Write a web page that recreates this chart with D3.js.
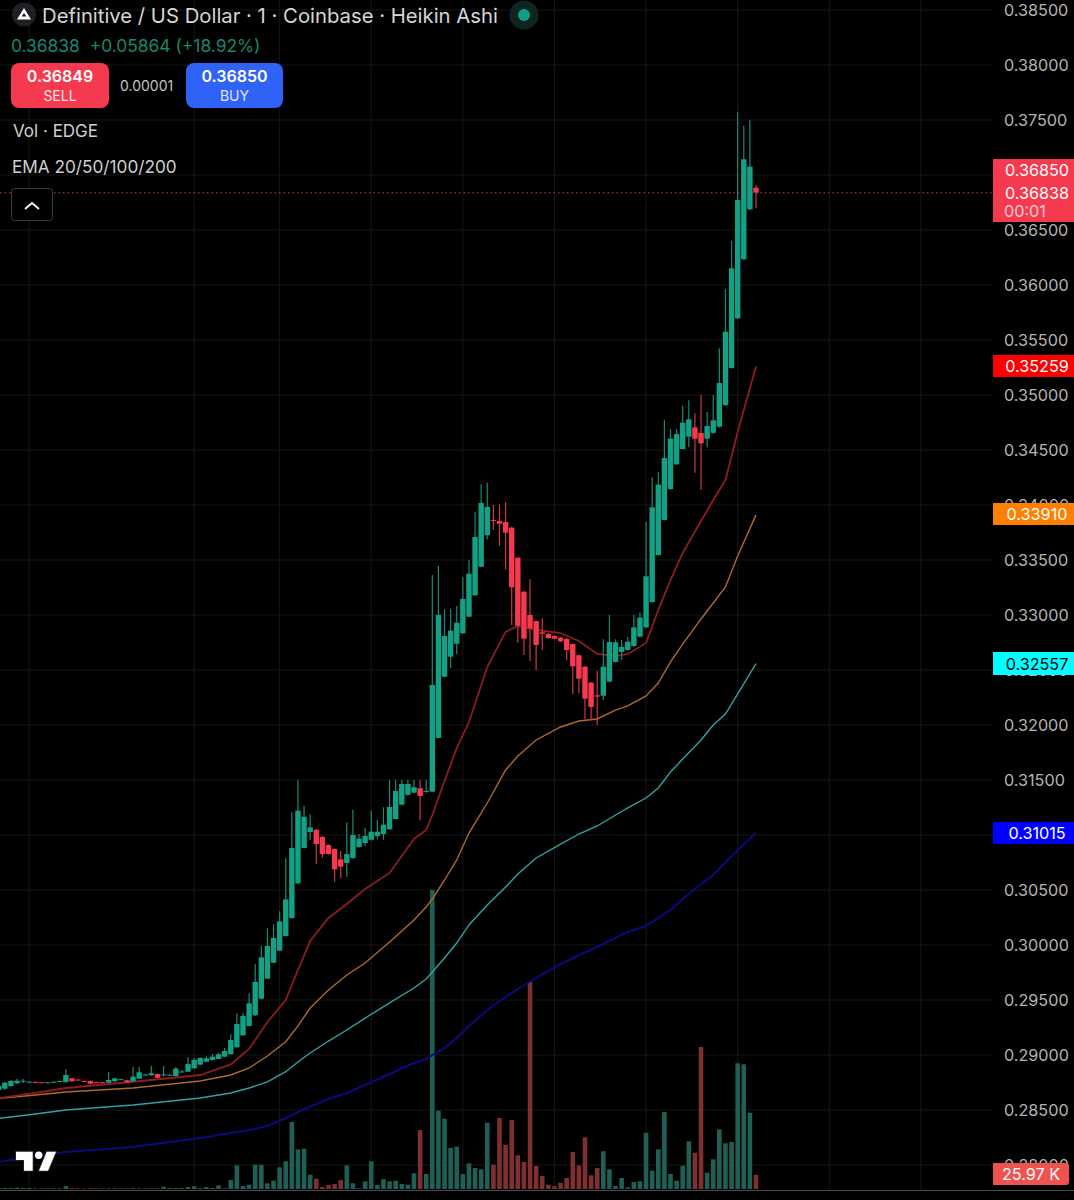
<!DOCTYPE html>
<html>
<head>
<meta charset="utf-8">
<title>Definitive / US Dollar</title>
<script src="https://d3js.org/d3.v7.min.js"></script>
<style>
  html, body { margin: 0; padding: 0; background: #000; overflow: hidden; }
  svg { display: block; }
  text { font-family: Inter, "Noto Sans", sans-serif; }
</style>
</head>
<body>
<div id="chart"></div>
<script>
// --- data ---
const opens = [
  0.28682,0.28694,0.28718,0.28743,0.28762,0.28755,0.28755,0.28752,0.28750,0.28752,
  0.28757,0.28755,0.28788,0.28777,0.28764,0.28764,0.28755,0.28752,0.28748,0.28761,
  0.28777,0.28770,0.28761,0.28785,0.28818,0.28816,0.28827,0.28820,0.28816,0.28809,
  0.28846,0.28848,0.28879,0.28912,0.28939,0.28955,0.28964,0.28985,0.29009,0.29070,
  0.29179,0.29264,0.29361,0.29512,0.29694,0.29839,0.29948,0.30082,0.30245,0.30561,
  0.30882,0.31027,0.31048,0.30982,0.30909,0.30873,0.30779,0.30745,0.30791,0.30891,
  0.30927,0.30957,0.30991,0.31009,0.31052,0.31145,0.31276,0.31366,0.31385,0.31425,
  0.31395,0.31394,0.31882,0.32439,0.32621,0.32739,0.32834,0.32985,0.33179,0.33439,
  0.33725,0.33864,0.33855,0.33845,0.33794,0.33521,0.33212,0.33000,0.32945,0.32843,
  0.32827,0.32809,0.32794,0.32782,0.32736,0.32634,0.32530,0.32385,0.32270,0.32266,
  0.32394,0.32573,0.32664,0.32682,0.32718,0.32803,0.32888,0.33118,0.33545,0.33864,
  0.34145,0.34370,0.34509,0.34621,0.34706,0.34655,0.34603,0.34657,0.34712,0.34909,
  0.35245,0.35697,0.36234,0.36688,0.36885
];
const closes = [
  0.28718,0.28748,0.28764,0.28766,0.28766,0.28757,0.28750,0.28750,0.28752,0.28757,
  0.28764,0.28818,0.28761,0.28768,0.28755,0.28739,0.28750,0.28746,0.28773,0.28788,
  0.28780,0.28752,0.28803,0.28843,0.28823,0.28834,0.28793,0.28823,0.28820,0.28876,
  0.28850,0.28918,0.28955,0.28973,0.28970,0.28985,0.29007,0.29036,0.29136,0.29282,
  0.29355,0.29470,0.29664,0.29888,0.29991,0.30064,0.30215,0.30415,0.30882,0.31221,
  0.31166,0.31070,0.30918,0.30827,0.30827,0.30688,0.30712,0.30827,0.31000,0.30966,
  0.30991,0.31030,0.31030,0.31094,0.31255,0.31400,0.31464,0.31464,0.31434,0.31355,
  0.31400,0.32364,0.33000,0.32809,0.32858,0.32930,0.33146,0.33376,0.33709,0.34018,
  0.33982,0.33855,0.33830,0.33748,0.33252,0.32903,0.32785,0.32879,0.32727,0.32830,
  0.32791,0.32785,0.32761,0.32682,0.32534,0.32421,0.32239,0.32164,0.32258,0.32530,
  0.32755,0.32752,0.32709,0.32757,0.32888,0.32976,0.33352,0.33979,0.34185,0.34427,
  0.34603,0.34645,0.34748,0.34779,0.34603,0.34561,0.34718,0.34770,0.35109,0.35575,
  0.36152,0.36773,0.37143,0.37076,0.36839
];
const highs = [
  0.28727,0.28755,0.28773,0.28782,0.28782,0.28762,0.28759,0.28755,0.28755,0.28759,
  0.28766,0.28870,0.28795,0.28780,0.28768,0.28768,0.28757,0.28755,0.28846,0.28793,
  0.28784,0.28775,0.28894,0.28894,0.28827,0.28900,0.28832,0.28900,0.28825,0.28891,
  0.28864,0.28979,0.28973,0.28980,0.28991,0.29009,0.29020,0.29064,0.29188,0.29379,
  0.29385,0.29561,0.29827,0.29994,0.30152,0.30188,0.30306,0.30788,0.31209,0.31500,
  0.31266,0.31188,0.31055,0.30990,0.30915,0.30880,0.30855,0.31116,0.31230,0.31009,
  0.31061,0.31221,0.31136,0.31252,0.31500,0.31500,0.31500,0.31500,0.31500,0.31500,
  0.31500,0.33364,0.33446,0.33052,0.33052,0.33082,0.33343,0.33500,0.33939,0.34188,
  0.34203,0.34000,0.34006,0.34025,0.33800,0.33525,0.33220,0.33325,0.32950,0.32970,
  0.32835,0.32815,0.32800,0.32790,0.32742,0.32640,0.32535,0.32390,0.32491,0.32779,
  0.33000,0.32779,0.32773,0.32800,0.33000,0.33025,0.33848,0.34252,0.34297,0.34773,
  0.34688,0.34688,0.34903,0.34952,0.34834,0.35000,0.34846,0.35000,0.35425,0.35964,
  0.36403,0.37576,0.37448,0.37500,0.36909
];
const lows = [
  0.28673,0.28682,0.28709,0.28736,0.28745,0.28750,0.28748,0.28748,0.28748,0.28750,
  0.28755,0.28748,0.28757,0.28766,0.28752,0.28735,0.28748,0.28743,0.28745,0.28757,
  0.28775,0.28748,0.28757,0.28780,0.28814,0.28811,0.28789,0.28803,0.28812,0.28805,
  0.28843,0.28845,0.28875,0.28908,0.28935,0.28950,0.28960,0.28980,0.29005,0.29065,
  0.29175,0.29260,0.29355,0.29505,0.29690,0.29835,0.29944,0.30078,0.30240,0.30555,
  0.30878,0.30955,0.30734,0.30794,0.30820,0.30576,0.30606,0.30621,0.30785,0.30885,
  0.30900,0.30950,0.30961,0.30957,0.31045,0.31140,0.31270,0.31360,0.31380,0.31136,
  0.31385,0.31390,0.31880,0.32435,0.32521,0.32646,0.32830,0.32980,0.33175,0.33435,
  0.33688,0.33773,0.33627,0.33416,0.32909,0.32748,0.32636,0.32582,0.32500,0.32682,
  0.32785,0.32780,0.32755,0.32591,0.32282,0.32288,0.32052,0.32045,0.32000,0.32227,
  0.32390,0.32568,0.32591,0.32675,0.32710,0.32798,0.32880,0.33112,0.33540,0.33860,
  0.34140,0.34365,0.34505,0.34525,0.34294,0.34136,0.34525,0.34645,0.34705,0.34900,
  0.35240,0.35690,0.36230,0.36680,0.36697
];
// volume in thousands
const volumes = [
  1.8,1.8,1.8,2.4,1.8,1.8,1.3,1.3,1.3,1.3,
  1.3,5.4,1.3,1.2,1.1,1.4,1.2,1.1,1.3,1.2,
  1.1,1.2,1.4,1.2,1.1,1.3,1.2,4.2,1.8,1.8,
  1.8,3.6,4.9,1.8,3.6,1.8,6.7,1.3,16.3,43,
  5.4,7.8,44.1,44.1,10.4,15.1,39.4,50.3,121.7,72.1,
  73.2,26,18.7,3.6,7.3,9.1,16.3,43,10.4,1.3,
  14,50.3,7.3,17.6,14,15.1,9.1,7.8,28.5,107.1,
  27.2,543,142.2,127.7,74.5,76.8,27.2,46.7,38.1,35.8,
  120.4,44.1,128.9,80.4,125.3,61.2,49,375.9,41.8,23.6,
  7.8,5.4,11.4,20,67.2,43,93.9,24.9,38.1,68.5,
  35.8,5.4,20,3.1,12.7,14,102.2,33.2,72.1,139.8,
  27.2,15.1,42.3,86.6,65.9,257.9,29.6,53.9,108.4,83,
  85.4,228.3,226.5,138.6,25.97
];

// EMA lines, read at these bars only
const emaBars = [0,6,11,22,33,38,41,44,47,49,51,54,57,60,64,68,70,71,73,75,77,80,83,85,88,92,95,98,101,103,106,108,110,112,115,117,119,121,124];
const ema20 = [0.28609,0.28655,0.28700,0.28757,0.28818,0.28914,0.29055,0.29300,0.29500,0.29773,0.30036,0.30246,0.30373,0.30509,0.30655,0.30964,0.31046,0.31182,0.31491,0.31791,0.32027,0.32527,0.32846,0.32900,0.32864,0.32836,0.32764,0.32646,0.32627,0.32646,0.32746,0.33046,0.33318,0.33564,0.33855,0.34046,0.34227,0.34664,0.35259];
const ema50 = [0.28605,0.28636,0.28664,0.28700,0.28764,0.28818,0.28882,0.28991,0.29121,0.29264,0.29427,0.29591,0.29727,0.29836,0.30027,0.30227,0.30346,0.30418,0.30591,0.30773,0.31018,0.31291,0.31591,0.31718,0.31864,0.31982,0.32036,0.32055,0.32136,0.32173,0.32264,0.32382,0.32573,0.32736,0.32964,0.33109,0.33255,0.33536,0.33910];
const ema100 = [0.28423,0.28464,0.28500,0.28546,0.28609,0.28655,0.28700,0.28755,0.28848,0.28936,0.29018,0.29127,0.29227,0.29336,0.29473,0.29609,0.29691,0.29755,0.29882,0.30018,0.30182,0.30364,0.30527,0.30646,0.30791,0.30918,0.31009,0.31082,0.31182,0.31246,0.31336,0.31427,0.31573,0.31691,0.31864,0.32000,0.32100,0.32282,0.32557];
const ema200 = [0.28027,0.28082,0.28118,0.28164,0.28246,0.28291,0.28318,0.28355,0.28427,0.28482,0.28530,0.28600,0.28655,0.28727,0.28827,0.28927,0.28964,0.29000,0.29064,0.29155,0.29264,0.29409,0.29527,0.29600,0.29700,0.29827,0.29909,0.29982,0.30064,0.30118,0.30173,0.30246,0.30318,0.30418,0.30555,0.30636,0.30755,0.30864,0.31015];

const priceTicks = [0.385,0.38,0.375,0.37,0.365,0.36,0.355,0.35,0.345,0.34,0.335,0.33,0.325,0.32,0.315,0.31,0.305,0.30,0.295,0.29,0.285,0.28];
// 0.37 and 0.31 sit fully under the price boxes, so no label shows for them
const hiddenTicks = [0.37, 0.31];
const gridBars = [5,32,46,61,76,91,106,121,136,151];
const lastPrice = 0.36838;
const emaLabels = ["0.35259","0.33910","0.32557","0.31015"];

// --- layout ---
const width = 1074, height = 1200, axisLeft = 993;
const GREEN = "#14a085", RED = "#f5394e";
const AXIS_FONT = 16.2;

const svg = d3.select("#chart").append("svg")
  .attr("width", width)
  .attr("height", height);
svg.append("rect").attr("width", width).attr("height", height).attr("fill", "#000");

// scales
const x = d3.scaleLinear().domain([0, 124]).range([-1.3, 756]);
const y = d3.scaleLinear().domain([0.385, 0.28]).range([10, 1165]);
const v = d3.scaleLinear().domain([0, 543]).range([1189, 890]);

// --- grid ---
svg.append("g").selectAll("line").data(priceTicks).enter().append("line")
  .attr("x1", 0).attr("x2", axisLeft)
  .attr("y1", d => y(d)).attr("y2", d => y(d))
  .attr("stroke", "#171717");
svg.append("g").selectAll("line").data(gridBars).enter().append("line")
  .attr("x1", d => x(d)).attr("x2", d => x(d))
  .attr("y1", 0).attr("y2", 1190)
  .attr("stroke", "#171717");

// bottom edge of the pane
svg.append("line")
  .attr("x1", 0).attr("x2", width)
  .attr("y1", 1190.5).attr("y2", 1190.5)
  .attr("stroke", "#4a4a4a");

// --- volume ---
svg.append("g").selectAll("rect").data(volumes).enter().append("rect")
  .attr("x", (d, i) => x(i) - 2.3)
  .attr("width", 4.6)
  .attr("y", d => v(d))
  .attr("height", d => v(0) - v(d))
  .attr("fill", (d, i) => closes[i] >= opens[i] ? "#1f5f56" : "#7e2f30");

// --- EMA lines ---
const emaLine = d3.line()
  .x((d, i) => x(emaBars[i]))
  .y(d => y(d));
const emas = [
  { values: ema200, color: "#0a0a80", w: 2 },
  { values: ema100, color: "#2fa3a3", w: 1.4 },
  { values: ema50, color: "#ad6a2a", w: 1.4 },
  { values: ema20, color: "#8f1c1f", w: 1.8 }
];
emas.forEach(e => {
  svg.append("path")
    .attr("d", emaLine(e.values))
    .attr("fill", "none")
    .attr("stroke", e.color)
    .attr("stroke-width", e.w);
});

// --- last price line ---
svg.append("line")
  .attr("x1", 0).attr("x2", axisLeft)
  .attr("y1", y(lastPrice)).attr("y2", y(lastPrice))
  .attr("stroke", "#c9404c")
  .attr("stroke-dasharray", "1.5,3");

// --- candles ---
const candles = svg.append("g").selectAll("g").data(opens).enter().append("g");
candles.append("line")
  .attr("x1", (d, i) => x(i)).attr("x2", (d, i) => x(i))
  .attr("y1", (d, i) => y(highs[i]))
  .attr("y2", (d, i) => y(lows[i]))
  .attr("stroke", (d, i) => closes[i] >= opens[i] ? "#1a8a76" : "#c93a49")
  .attr("stroke-width", 1.2);
candles.append("rect")
  .attr("x", (d, i) => x(i) - 2.7)
  .attr("width", 5.4)
  .attr("y", (d, i) => y(Math.max(opens[i], closes[i])))
  .attr("height", (d, i) => Math.max(1, Math.abs(y(opens[i]) - y(closes[i]))))
  .attr("fill", (d, i) => closes[i] >= opens[i] ? GREEN : RED);

// --- price axis ---
const axis = d3.axisRight(y)
  .tickValues(priceTicks.filter(d => !hiddenTicks.includes(d)))
  .tickFormat(d3.format(".5f"))
  .tickSize(0)
  .tickPadding(0);
const axisG = svg.append("g")
  .attr("transform", "translate(1004,0.8)")
  .call(axis);
axisG.select(".domain").remove();
axisG.selectAll("text")
  .style("font-family", "Inter")
  .style("font-size", AXIS_FONT + "px")
  .attr("fill", "#b4b4b4");

// --- labels on the axis ---
function priceBox(py, h, color) {
  svg.append("rect")
    .attr("x", axisLeft).attr("y", py)
    .attr("width", width - axisLeft).attr("height", h)
    .attr("fill", color);
}
function boxText(label, py, color) {
  svg.append("text")
    .attr("x", 1037).attr("y", py)
    .attr("text-anchor", "middle")
    .attr("dominant-baseline", "central")
    .attr("font-size", AXIS_FONT)
    .attr("fill", color)
    .text(label);
}
priceBox(159, 63, "#f5394e");
boxText("0.36850", 170, "#fff");
boxText("0.36838", 192.5, "#fff");
svg.append("text")
  .attr("x", 1004).attr("y", 211)
  .attr("dominant-baseline", "central")
  .attr("font-size", AXIS_FONT)
  .attr("fill", "#fff")
  .attr("opacity", 0.75)
  .text("00:01");

priceBox(355, 22, "#ff0000");
boxText(emaLabels[0], 366, "#fff");
priceBox(503, 22, "#ff8000");
boxText(emaLabels[1], 514, "#fff");
priceBox(652, 23, "#00ffff");
boxText(emaLabels[2], 663.5, "#000");
priceBox(822, 22, "#0000ff");
boxText(emaLabels[3], 833, "#fff");

// volume label
svg.append("path")
  .attr("d", "M993,1163H1066a3,3 0 0 1 3,3V1182a3,3 0 0 1 -3,3H993Z")
  .attr("fill", "#ef5350");
svg.append("text")
  .attr("x", 1031).attr("y", 1174)
  .attr("text-anchor", "middle")
  .attr("dominant-baseline", "central")
  .attr("font-size", AXIS_FONT)
  .attr("fill", "#fff")
  .text("25.97 K");

// --- header ---
svg.append("circle").attr("cx", 24).attr("cy", 14.5).attr("r", 12).attr("fill", "#1e2024");
svg.append("path").attr("d", "M24,8L31,19.5H17Z").attr("fill", "#fff");
svg.append("path").attr("d", "M24,13L26.5,16.5H21.5Z").attr("fill", "#1e2024");

svg.append("text")
  .attr("x", 42).attr("y", 15)
  .attr("dominant-baseline", "central")
  .attr("font-size", 20.3)
  .attr("fill", "#d6d6d6")
  .text("Definitive / US Dollar · 1 · Coinbase · Heikin Ashi");

svg.append("circle").attr("cx", 524).attr("cy", 15).attr("r", 14.5).attr("fill", "#10241f");
svg.append("circle").attr("cx", 524).attr("cy", 15).attr("r", 6).attr("fill", "#0f9d84");

svg.append("text")
  .attr("x", 11).attr("y", 45)
  .attr("dominant-baseline", "central")
  .attr("font-size", 17.4)
  .attr("fill", "#17876f")
  .attr("xml:space", "preserve")
  .text("0.36838  +0.05864 (+18.92%)");

// sell and buy buttons
function tradeButton(bx, bw, color, price, label) {
  svg.append("rect")
    .attr("x", bx).attr("y", 63)
    .attr("width", bw).attr("height", 45)
    .attr("rx", 8)
    .attr("fill", color);
  svg.append("text")
    .attr("x", bx + bw / 2).attr("y", 76)
    .attr("text-anchor", "middle")
    .attr("dominant-baseline", "central")
    .attr("font-size", 16)
    .attr("font-weight", 600)
    .attr("fill", "#fff")
    .text(price);
  svg.append("text")
    .attr("x", bx + bw / 2).attr("y", 95)
    .attr("text-anchor", "middle")
    .attr("dominant-baseline", "central")
    .attr("font-size", 14)
    .attr("fill", "#fff")
    .attr("opacity", 0.85)
    .text(label);
}
tradeButton(11, 98, "#f5394e", "0.36849", "SELL");
tradeButton(186, 97, "#2f62f6", "0.36850", "BUY");
svg.append("text")
  .attr("x", 120).attr("y", 85)
  .attr("dominant-baseline", "central")
  .attr("font-size", 14)
  .attr("fill", "#c4c4c4")
  .text("0.00001");

svg.append("text")
  .attr("x", 13).attr("y", 131)
  .attr("dominant-baseline", "central")
  .attr("font-size", 17)
  .attr("fill", "#cfcfcf")
  .text("Vol · EDGE");
svg.append("text")
  .attr("x", 12).attr("y", 166)
  .attr("dominant-baseline", "central")
  .attr("font-size", 17.2)
  .attr("fill", "#cfcfcf")
  .text("EMA 20/50/100/200");

// collapse button
svg.append("rect")
  .attr("x", 11.5).attr("y", 188.5)
  .attr("width", 41).attr("height", 32)
  .attr("rx", 3)
  .attr("fill", "#000")
  .attr("stroke", "#3c3c3c");
svg.append("path")
  .attr("d", "M25,209L32,203L39,209")
  .attr("fill", "none")
  .attr("stroke", "#f0f0f0")
  .attr("stroke-width", 2);

// tradingview mark
const logo = svg.append("g");
logo.append("path")
  .attr("d", "M16,1151.7H32.7V1170.7H24V1160H16Z M46.7,1151.7H56L48,1170.7H39Z")
  .attr("fill", "#fff")
  .attr("stroke", "#222")
  .attr("stroke-width", 2)
  .attr("paint-order", "stroke");
logo.append("circle")
  .attr("cx", 38.7).attr("cy", 1155.3).attr("r", 3.7)
  .attr("fill", "#fff");
</script>
</body>
</html>
